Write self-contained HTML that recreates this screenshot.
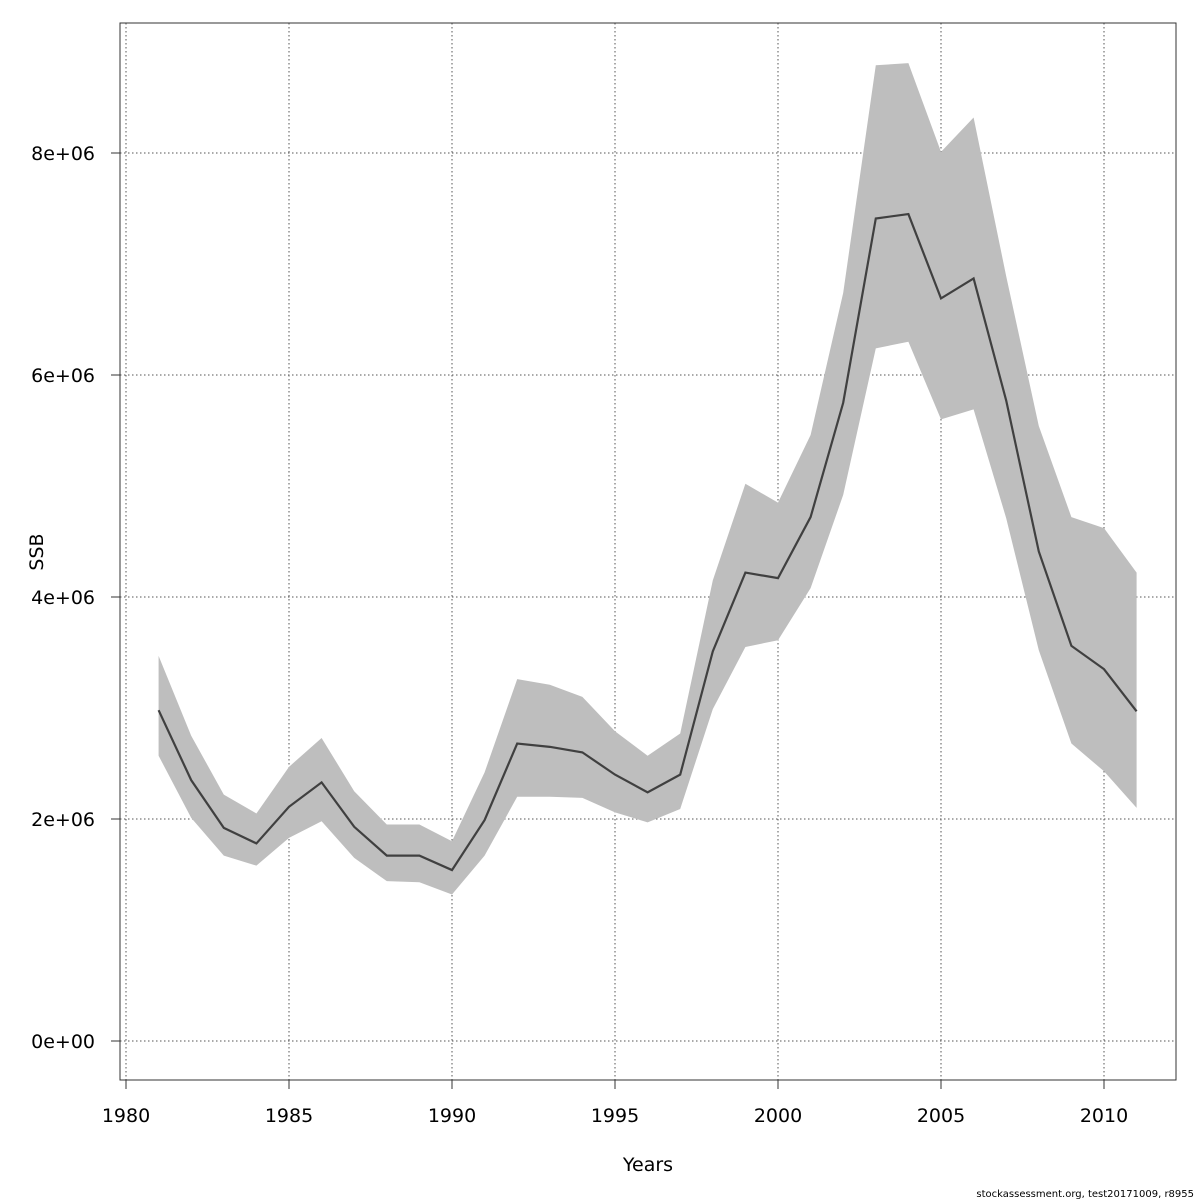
<!DOCTYPE html>
<html><head><meta charset="utf-8"><style>
body{margin:0;background:#fff}
svg{display:block;font-family:"DejaVu Sans","Liberation Sans",sans-serif}
</style></head><body>
<svg id="chart" width="1200" height="1200">
<rect x="0" y="0" width="1200" height="1200" fill="#fff"/>
<g id="grid"></g>
<path id="band" fill="#bebebe" stroke="none"/>
<path id="line" fill="none" stroke="#404040" stroke-width="2.2"/>
<rect x="120" y="23" width="1056" height="1057" fill="none" stroke="#333" stroke-width="1"/>
<g id="xt"></g>
<g id="yt"></g>
<text x="648" y="1171" font-size="19" text-anchor="middle">Years</text>
<text x="43" y="552" font-size="19" text-anchor="middle" transform="rotate(-90 43 552)">SSB</text>
<text x="1194" y="1197" font-size="10" text-anchor="end">stockassessment.org, test20171009, r8955</text>
</svg>
<script>
const years=[1981,1982,1983,1984,1985,1986,1987,1988,1989,1990,1991,1992,1993,1994,1995,1996,1997,1998,1999,2000,2001,2002,2003,2004,2005,2006,2007,2008,2009,2010,2011];
const ssb=[2.98,2.35,1.92,1.78,2.11,2.33,1.93,1.67,1.67,1.54,1.99,2.68,2.65,2.60,2.40,2.24,2.40,3.51,4.22,4.17,4.72,5.75,7.41,7.45,6.69,6.87,5.77,4.41,3.56,3.35,2.97];
const upper=[3.47,2.75,2.22,2.05,2.47,2.73,2.25,1.95,1.95,1.80,2.42,3.26,3.21,3.10,2.79,2.57,2.77,4.15,5.02,4.85,5.46,6.74,8.79,8.81,8.01,8.32,6.89,5.54,4.72,4.62,4.22];
const lower=[2.57,2.01,1.67,1.58,1.83,1.98,1.65,1.44,1.43,1.32,1.67,2.20,2.20,2.19,2.06,1.97,2.09,2.99,3.55,3.61,4.08,4.92,6.24,6.30,5.60,5.69,4.71,3.52,2.68,2.43,2.10];
const xTicks=[1980,1985,1990,1995,2000,2005,2010];
const yTicks=[0,2,4,6,8];
const yLabels=["0e+00","2e+06","4e+06","6e+06","8e+06"];
const X=v=>126+(v-1980)*32.6;
const Y=v=>1041-v*111;
const NS="http://www.w3.org/2000/svg";
function mk(t,a,p){const e=document.createElementNS(NS,t);for(const k in a)e.setAttribute(k,a[k]);p.appendChild(e);return e;}
const grid=document.getElementById('grid'),xt=document.getElementById('xt'),yt=document.getElementById('yt');
xTicks.forEach(t=>{
 const g=mk('line',{x1:X(t),x2:X(t),y1:23,y2:1080,stroke:'#555','stroke-dasharray':'1.5,2.5','stroke-width':1},grid);
 
 
 const tk=mk('line',{x1:X(t),x2:X(t),y1:1080,y2:1089,stroke:'#333'},xt);
 
 
 const l=mk('text',{x:X(t),y:1122,'font-size':19,'text-anchor':'middle'},xt);l.textContent=t;
 
 
});
yTicks.forEach((t,i)=>{
 const g=mk('line',{x1:120,x2:1176,y1:Y(t),y2:Y(t),stroke:'#555','stroke-dasharray':'1.5,2.5','stroke-width':1},grid);
 
 
 const tk=mk('line',{x1:111,x2:120,y1:Y(t),y2:Y(t),stroke:'#333'},yt);
 
 
 const l=mk('text',{x:95,y:Y(t)+7,'font-size':19,'text-anchor':'end'},yt);l.textContent=yLabels[i];
 
 
});
let d=years.map((y,i)=>(i?'L':'M')+X(y)+','+Y(upper[i])).join('');
for(let i=years.length-1;i>=0;i--)d+='L'+X(years[i])+','+Y(lower[i]);
document.getElementById('band').setAttribute('d',d+'Z');
document.getElementById('line').setAttribute('d',years.map((y,i)=>(i?'L':'M')+X(y)+','+Y(ssb[i])).join(''));
</script>
</body></html>
